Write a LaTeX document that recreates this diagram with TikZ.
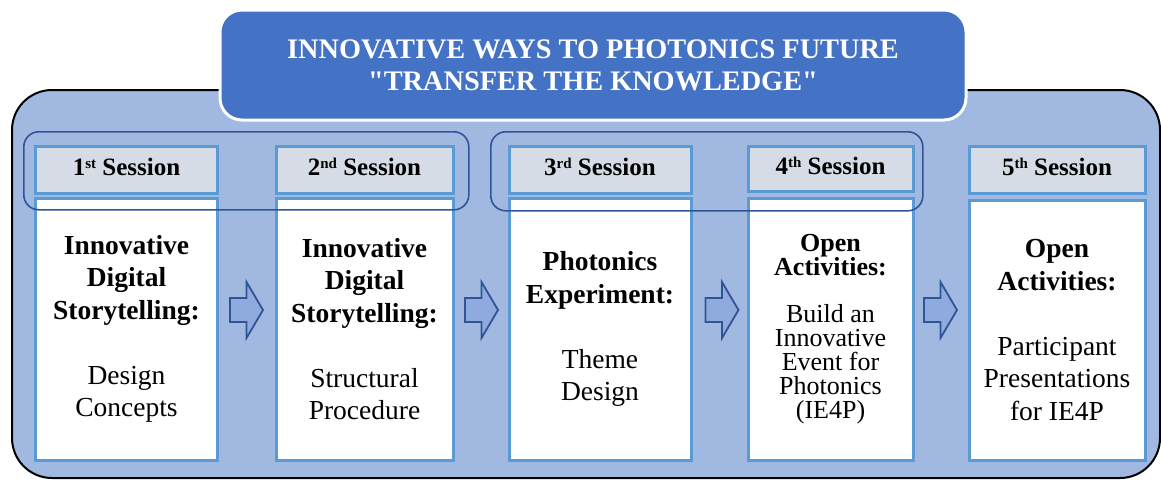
\documentclass[tikz,border=0pt]{standalone}
\usepackage{fontspec}
\setmainfont{Liberation Serif}[Ligatures=TeXOff]
\definecolor{panelblue}{RGB}{161,185,225}
\definecolor{titleblue}{RGB}{68,114,196}
\definecolor{hdrgrey}{RGB}{214,220,229}
\definecolor{boxblue}{RGB}{91,155,213}
\definecolor{groupblue}{RGB}{47,85,151}
\definecolor{arrowblue}{RGB}{143,170,220}
\newcommand\ordsup[1]{\raisebox{7pt}{\fontsize{15}{15}\selectfont #1}}
\newcommand\bl[1]{\textbf{#1}}
\begin{document}
\begin{tikzpicture}[x=1pt,y=-1pt,
  outerpanel/.style={draw=black, line width=2pt, fill=panelblue, rounded corners=40pt, inner sep=0pt},
  titlebox/.style={draw=white, line width=3pt, fill=titleblue, rounded corners=22pt, inner sep=0pt,
    text=white, align=center, font=\fontsize{28.3}{32}\selectfont\bfseries},
  sessionhdr/.style={draw=boxblue, line width=3pt, fill=hdrgrey, inner sep=0pt, anchor=north west,
    font=\fontsize{25}{30}\selectfont\bfseries, text height=17pt, text depth=5pt},
  sessionbody/.style={draw=boxblue, line width=3pt, fill=white, inner sep=0pt, anchor=north west,
    align=center, font=\fontsize{27.5}{32.5}\selectfont},
  grouprim/.style={draw=groupblue, line width=1.6pt, rounded corners=15pt, inner sep=0pt, anchor=north west},
  arrowline/.style={draw=groupblue, line width=1.8pt, fill=arrowblue, line join=miter},
  flowarrow/.pic={\draw[arrowline] (-16.5,-12) -- (0,-12) -- (0,-28) -- (16.5,0) -- (0,28) -- (0,12) -- (-16.5,12) -- cycle;}
]
\useasboundingbox (0,0) rectangle (1161,479);

% background panel and heading
\node[outerpanel, minimum width=1148pt, minimum height=388pt, anchor=north west] (panel) at (11,89) {};
\node[titlebox, minimum width=746pt, minimum height=110pt, anchor=north west] (title) at (218.5,8.5)
  {INNOVATIVE WAYS TO PHOTONICS FUTURE\\"TRANSFER THE KNOWLEDGE"};

% session headers
\node[sessionhdr, minimum width=182pt, minimum height=47pt] (h1) at (34,144.5) {1\ordsup{st} Session};
\node[sessionhdr, minimum width=177pt, minimum height=47pt] (h2) at (274.5,144.5) {2\ordsup{nd} Session};
\node[sessionhdr, minimum width=182pt, minimum height=47pt] (h3) at (507.5,144.5) {3\ordsup{rd} Session};
\node[sessionhdr, minimum width=165pt, minimum height=45pt] (h4) at (746.5,144.5) {4\ordsup{th} Session};
\node[sessionhdr, minimum width=176pt, minimum height=47pt] (h5) at (967.5,144.5) {5\ordsup{th} Session};

% session contents
\node[sessionbody, minimum width=182pt, minimum height=262pt] (b1) at (34,196.5)
  {\bl{Innovative}\\\bl{Digital}\\\bl{Storytelling:}\\[32.5pt]Design\\Concepts};
\node[sessionbody, minimum width=177pt, minimum height=262pt] (b2) at (274.5,196.5)
  {\bl{Innovative}\\\bl{Digital}\\\bl{Storytelling:}\\[32.5pt]Structural\\Procedure};
\node[sessionbody, minimum width=182pt, minimum height=262pt] (b3) at (507.5,196.5)
  {\bl{Photonics}\\\bl{Experiment:}\\[32.5pt]Theme\\Design};
\node[sessionbody, minimum width=165pt, minimum height=262pt, font=\fontsize{26}{24}\selectfont] (b4) at (746.5,196.5)
  {\bl{Open}\\\bl{Activities:}\\[23pt]Build an\\Innovative\\Event for\\Photonics\\(IE4P)};
\node[sessionbody, minimum width=176pt, minimum height=260pt] (b5) at (967.5,198.5)
  {\bl{Open}\\\bl{Activities:}\\[32.5pt]Participant\\Presentations\\for IE4P};

% grouping outlines
\node[grouprim, minimum width=445pt, minimum height=78pt] (g1) at (23,131) {};
\node[grouprim, minimum width=432pt, minimum height=79pt] (g2) at (490,131) {};

% flow arrows between sessions
\pic at (246.5,310) {flowarrow};
\pic at (481.5,310) {flowarrow};
\pic at (722,310) {flowarrow};
\pic at (940.5,310) {flowarrow};
\end{tikzpicture}
\end{document}
